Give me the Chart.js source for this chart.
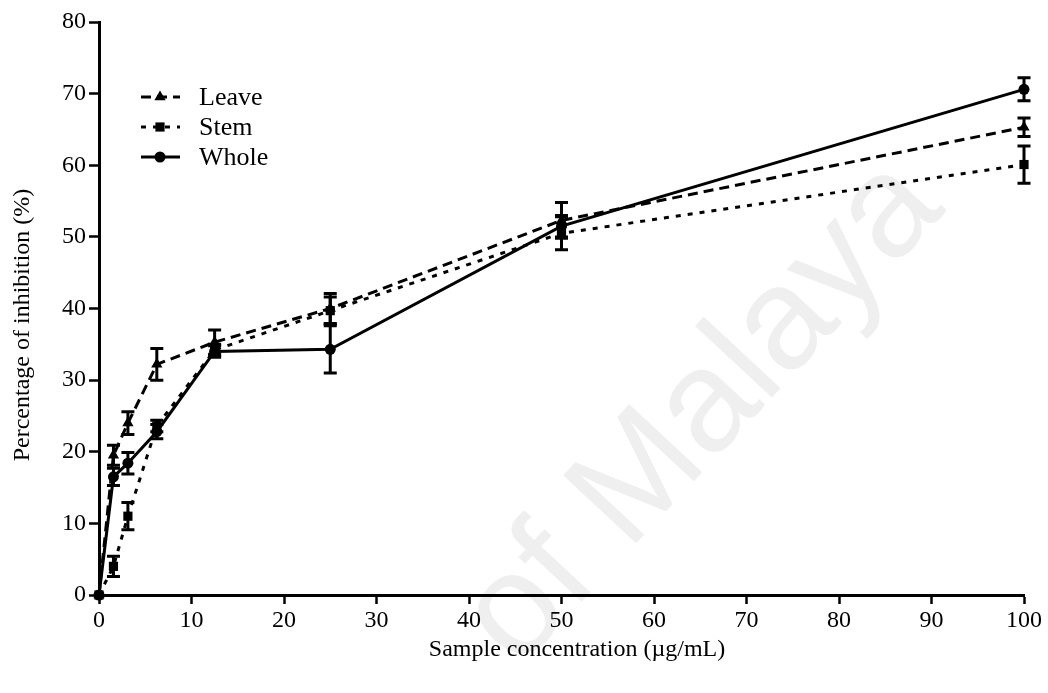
<!DOCTYPE html>
<html lang="en">
<head>
    <meta charset="UTF-8">
    <title>Percentage of inhibition</title>
    <script src="https://cdn.jsdelivr.net/npm/chart.js"></script>
    <style>
        html, body {
            margin: 0;
            padding: 0;
            background: #fff;
        }
        #wrap {
            width: 1048px;
            height: 693px;
        }
    </style>
</head>
<body>
    <div id="wrap"><canvas id="inhibitionChart" width="1048" height="693"></canvas></div>

    <script>
        // concentrations (µg/mL)
        const concentrations = [0, 1.5625, 3.125, 6.25, 12.5, 25, 50, 100];

        // mean inhibition (%) and error (±) for each extract
        const leaveMean = [0, 19.5, 24.0, 32.2, 35.3, 40.0, 52.3, 65.3];
        const leaveErr  = [0, 1.4, 1.6, 2.2, 1.7, 2.1, 2.5, 1.3];
        const stemMean  = [0, 4.0, 11.0, 23.6, 34.2, 39.7, 50.5, 60.1];
        const stemErr   = [0, 1.4, 1.9, 0.8, 0.8, 1.9, 2.3, 2.6];
        const wholeMean = [0, 16.5, 18.4, 22.8, 34.0, 34.3, 51.5, 70.6];
        const wholeErr  = [0, 1.2, 1.5, 1.0, 0.8, 3.3, 1.5, 1.6];

        const yTicks = [0, 10, 20, 30, 40, 50, 60, 70, 80];
        const xTicks = [0, 10, 20, 30, 40, 50, 60, 70, 80, 90, 100];

        const xTitle = 'Sample concentration (µg/mL)';
        const yTitle = 'Percentage of inhibition (%)';

        const serif = "'Liberation Serif', 'Times New Roman', serif";

        function toPoints(means, errs) {
            return concentrations.map((x, i) => ({ x: x, y: means[i], err: errs[i] }));
        }

        const seriesStyle = [
            { label: 'Leave', data: toPoints(leaveMean, leaveErr), dash: [10, 6], point: 'triangle', radius: 6.5 },
            { label: 'Stem', data: toPoints(stemMean, stemErr), dash: [5, 7], point: 'rect', radius: 6.5 },
            { label: 'Whole', data: toPoints(wholeMean, wholeErr), dash: [], point: 'circle', radius: 5.5 }
        ];

        // faint watermark behind everything
        const watermark = {
            id: 'watermark',
            beforeDraw(chart) {
                const ctx = chart.ctx;
                ctx.save();
                ctx.translate(518, 670);
                ctx.rotate(-47 * Math.PI / 180);
                ctx.font = "145px 'Liberation Sans', Arial, sans-serif";
                ctx.fillStyle = '#efefef';
                ctx.textBaseline = 'alphabetic';
                ctx.fillText('of Malaya', 0, 0);
                ctx.restore();
            }
        };

        // axis titles, placed like the original figure
        const axisTitles = {
            id: 'axisTitles',
            afterDraw(chart) {
                const ctx = chart.ctx;
                ctx.save();
                ctx.fillStyle = '#000';
                ctx.font = '24px ' + serif;
                ctx.textAlign = 'center';
                ctx.textBaseline = 'middle';
                ctx.fillText(xTitle, 577, 650);
                ctx.translate(23, 325);
                ctx.rotate(-Math.PI / 2);
                ctx.fillText(yTitle, 0, 0);
                ctx.restore();
            }
        };

        // error bars with caps
        const errorBars = {
            id: 'errorBars',
            afterDatasetsDraw(chart) {
                const ctx = chart.ctx;
                const xs = chart.scales.x, ys = chart.scales.y;
                ctx.save();
                ctx.strokeStyle = '#000';
                ctx.lineWidth = 3;
                ctx.setLineDash([]);
                chart.data.datasets.forEach(ds => {
                    ds.data.forEach(p => {
                        if (!p.err) return;
                        const px = xs.getPixelForValue(p.x);
                        const top = ys.getPixelForValue(p.y + p.err);
                        const bot = ys.getPixelForValue(p.y - p.err);
                        ctx.beginPath();
                        ctx.moveTo(px, top); ctx.lineTo(px, bot);
                        ctx.moveTo(px - 6.5, top); ctx.lineTo(px + 6.5, top);
                        ctx.moveTo(px - 6.5, bot); ctx.lineTo(px + 6.5, bot);
                        ctx.stroke();
                    });
                });
                ctx.restore();
            }
        };

        // legend inside the plot, top left
        const insideLegend = {
            id: 'insideLegend',
            afterDraw(chart) {
                const ctx = chart.ctx;
                const rows = [97, 127, 157];
                ctx.save();
                seriesStyle.forEach((s, i) => {
                    const y = rows[i];
                    ctx.strokeStyle = '#000';
                    ctx.lineWidth = 3;
                    ctx.setLineDash(s.dash);
                    ctx.beginPath();
                    ctx.moveTo(141, y); ctx.lineTo(180, y);
                    ctx.stroke();
                    ctx.setLineDash([]);
                    ctx.fillStyle = '#000';
                    Chart.helpers.drawPoint(ctx, { pointStyle: s.point, radius: s.radius, borderWidth: 0 }, 160, y);
                    ctx.font = '26px ' + serif;
                    ctx.textBaseline = 'middle';
                    ctx.fillText(s.label, 199, y + 1);
                });
                ctx.restore();
            }
        };

        const ctx = document.getElementById('inhibitionChart').getContext('2d');
        new Chart(ctx, {
            type: 'line',
            data: {
                datasets: seriesStyle.map(s => ({
                    label: s.label,
                    data: s.data,
                    borderColor: '#000',
                    backgroundColor: '#000',
                    borderWidth: 3,
                    borderDash: s.dash,
                    pointStyle: s.point,
                    pointRadius: s.radius,
                    pointBorderWidth: 0,
                    pointBackgroundColor: '#000',
                    tension: 0,
                    clip: false
                }))
            },
            options: {
                responsive: false,
                animation: false,
                devicePixelRatio: 1,
                layout: { padding: { top: 22, right: 24, left: 0, bottom: 0 } },
                plugins: {
                    legend: { display: false },
                    tooltip: { enabled: false }
                },
                scales: {
                    x: {
                        type: 'linear',
                        min: 0,
                        max: 100,
                        afterBuildTicks(scale) { scale.ticks = xTicks.map(v => ({ value: v })); },
                        afterFit(scale) { scale.height = 98; },
                        border: { color: '#000', width: 3 },
                        grid: { drawOnChartArea: false, color: '#000', tickLength: 9, tickWidth: 2.5 },
                        ticks: { color: '#000', font: { family: serif, size: 24 }, padding: 2, maxRotation: 0 }
                    },
                    y: {
                        min: 0,
                        max: 80,
                        afterBuildTicks(scale) { scale.ticks = yTicks.map(v => ({ value: v })); },
                        afterFit(scale) { scale.width = 99; },
                        border: { color: '#000', width: 3 },
                        grid: { drawOnChartArea: false, color: '#000', tickLength: 10, tickWidth: 2.5 },
                        ticks: { color: '#000', font: { family: serif, size: 24 }, padding: 3 }
                    }
                }
            },
            plugins: [watermark, errorBars, insideLegend, axisTitles]
        });
    </script>
</body>
</html>
